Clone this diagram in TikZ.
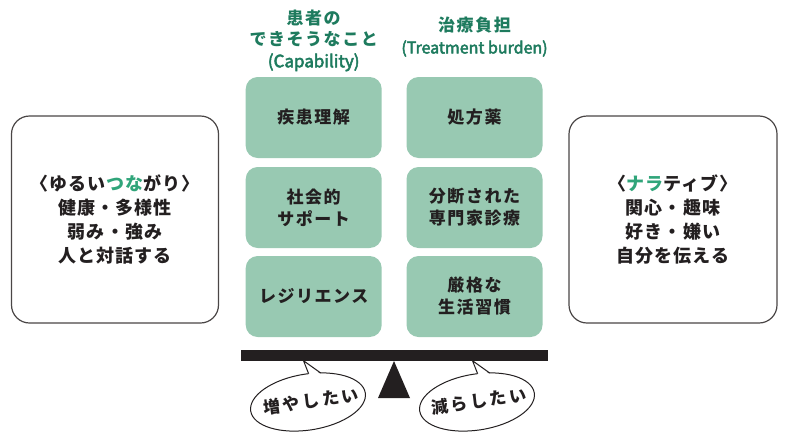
\documentclass[tikz,border=0pt]{standalone}
\usepackage{fontspec}
\usetikzlibrary{calc}
\setmainfont{Noto Sans CJK JP}
\newfontfamily\jpmed{Noto Sans CJK JP}[UprightFeatures={FakeBold=3}]
\newfontfamily\jpsp{Noto Sans CJK JP}[LetterSpace=9]
\newfontfamily\jpbig{Noto Sans CJK JP}[LetterSpace=6]
\newfontfamily\jpwide{Noto Sans CJK JP}[LetterSpace=16]
\definecolor{hdr}{HTML}{1E7B5E}
\definecolor{hl}{HTML}{30A57A}
\definecolor{boxg}{HTML}{98C9B2}
\definecolor{ink}{HTML}{231F20}
\definecolor{frame}{HTML}{4A4646}
\tikzset{
  gbox/.style={rounded corners=12pt, fill=boxg, minimum width=136pt, minimum height=81pt,
    align=center, inner sep=0pt, text=ink, font=\jpsp\bfseries\fontsize{17}{22}\selectfont},
  bigbox/.style={draw=frame, line width=1.2pt, rounded corners=18pt, fill=white,
    minimum width=207pt, minimum height=207pt, inner sep=0pt, align=center, text=ink,
    font=\jpbig\bfseries\fontsize{18}{24}\selectfont},
  hdrtext/.style={text=hdr, align=center, inner sep=0pt, font=\jpsp\bfseries\fontsize{17}{21.5}\selectfont},
  bubtext/.style={text=ink, inner sep=0pt, font=\jpwide\bfseries\fontsize{17}{20}\selectfont},
  bubble/.style={draw=ink, line width=1pt, fill=white},
  beam/.style={fill=ink},
}
\begin{document}
\begin{tikzpicture}[x=1pt,y=-1pt]
\useasboundingbox (0,0) rectangle (789,442);

% headers
\node[hdrtext] (hcap) at (313.7,40.5) {患者の\\できそうなこと\\{\jpmed\mdseries\fontsize{17}{21.5}\selectfont(Capability)}};
\node[hdrtext] (hburd) at (474.5,37) {治療負担\\{\jpmed\mdseries\fontsize{16}{21.5}\selectfont(Treatment burden)}};

% green boxes
\node[gbox] (c1) at (313.7,117.5) {疾患理解};
\node[gbox] (c2) at (313.7,207.5) {社会的\\サポート};
\node[gbox] (c3) at (313.7,296.5) {レジリエンス};
\node[gbox] (b1) at (474.5,117.5) {処方薬};
\node[gbox] (b2) at (474.5,207.5) {分断された\\専門家診療};
\node[gbox] (b3) at (474.5,296.5) {厳格な\\生活習慣};

% side boxes
\node[bigbox] (left) at (115,219.5) {〈ゆるい{\color{hl}つな}がり〉\\健康・多様性\\弱み・強み\\人と対話する};
\node[bigbox, minimum width=208pt] (right) at (673,219.5) {〈{\color{hl}ナラ}ティブ〉\\関心・趣味\\好き・嫌い\\自分を伝える};

% seesaw
\fill[beam] (241,350) rectangle (548,361);
\coordinate (apex) at (394,361);
\fill[beam] (apex) -- (378,398) -- (410,398) -- cycle;

% left bubble
\begin{scope}[shift={(308,402)}, rotate=9]
  \draw[bubble] (0,0) ellipse [x radius=58, y radius=28];
  \coordinate (lbl) at (-85:58 and 28);
  \coordinate (lbr) at (-73:58 and 28);
  \coordinate (lap) at (2,-41.5);
  \fill[white] ($(lbl)+(0,1.5)$) -- (lap) -- ($(lbr)+(0,1.5)$) -- cycle;
  \draw[ink, line width=1pt, line join=miter] (lbl) -- (lap) -- (lbr);
\end{scope}
\node[bubtext, rotate=8] (inc) at (311,401) {増やしたい};

% right bubble
\begin{scope}[shift={(477,402)}, rotate=9]
  \draw[bubble] (0,0) ellipse [x radius=58, y radius=28];
  \coordinate (rbl) at (-85:58 and 28);
  \coordinate (rbr) at (-73:58 and 28);
  \coordinate (rap) at (2,-41.5);
  \fill[white] ($(rbl)+(0,1.5)$) -- (rap) -- ($(rbr)+(0,1.5)$) -- cycle;
  \draw[ink, line width=1pt, line join=miter] (rbl) -- (rap) -- (rbr);
\end{scope}
\node[bubtext, rotate=8] (dec) at (479,401) {減らしたい};
\end{tikzpicture}
\end{document}
